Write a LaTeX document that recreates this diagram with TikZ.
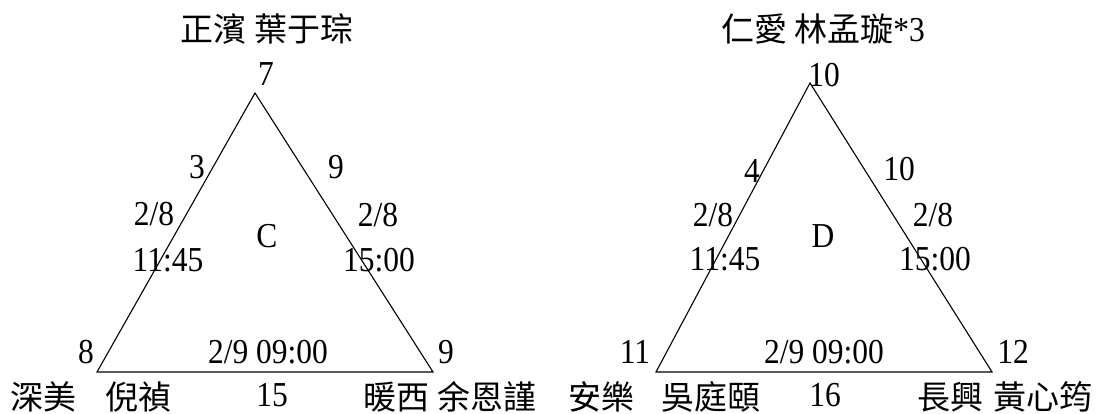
\documentclass[tikz,border=0pt]{standalone}
\usepackage{fontspec}
\setmainfont[FakeStretch=0.9]{Liberation Serif}
\newfontfamily\cjk{Noto Sans CJK TC}
\begin{document}
\begin{tikzpicture}[
x=1pt,y=-1pt,
lbl/.style={inner sep=0pt,font=\fontsize{35}{40}\selectfont},
person/.style={inner sep=0pt,font=\cjk\fontsize{33}{38}\selectfont},
side/.style={line width=1.1pt,black}
]
\useasboundingbox (0,0) rectangle (1101,414);
\coordinate (cT) at (255,93);
\coordinate (cL) at (97,372);
\coordinate (cR) at (433,372);
\draw[side] (cT) -- (cL) -- (cR) -- cycle;
\node[person] (ctitle) at (267,29) {正濱 葉于琮};
\node[lbl] (ctop) at (266,74) {7};
\node[lbl] (cleftn) at (197,167) {3};
\node[lbl] (crightn) at (336,167) {9};
\node[lbl] (cleftd) at (154,214) {2/8};
\node[lbl] (clefth) at (168,260) {11:45};
\node[lbl] (crightd) at (378,215) {2/8};
\node[lbl] (crighth) at (379,260) {15:00};
\node[lbl] (cletter) at (267,236) {C};
\node[lbl] (cln) at (86,352) {8};
\node[lbl] (crn) at (446,352) {9};
\node[lbl] (cbase) at (268,352) {2/9 09:00};
\node[person] (cls) at (43,397) {深美};
\node[person] (clp) at (138,397) {倪禎};
\node[lbl] (cbn) at (272,395) {15};
\node[person] (crs) at (396,397) {暖西};
\node[person] (crp) at (487,397) {余恩謹};
\coordinate (dT) at (810,83);
\coordinate (dL) at (656,372);
\coordinate (dR) at (992,372);
\draw[side] (dT) -- (dL) -- (dR) -- cycle;
\node[lbl] (dtitle) at (823,29) {{\cjk\fontsize{33}{38}\selectfont 仁愛 林孟璇}*3};
\node[lbl] (dtop) at (824,75) {10};
\node[lbl] (dleftn) at (752,171) {4};
\node[lbl] (drightn) at (899,169) {10};
\node[lbl] (dleftd) at (713,215) {2/8};
\node[lbl] (dlefth) at (725,259) {11:45};
\node[lbl] (drightd) at (933,215) {2/8};
\node[lbl] (drighth) at (935,259) {15:00};
\node[lbl] (dletter) at (823,236) {D};
\node[lbl] (dln) at (635,352) {11};
\node[lbl] (drn) at (1013,352) {12};
\node[lbl] (dbase) at (824,352) {2/9 09:00};
\node[person] (dls) at (601,397) {安樂};
\node[person] (dlp) at (711,397) {吳庭頤};
\node[lbl] (dbn) at (825,395) {16};
\node[person] (drs) at (950,397) {長興};
\node[person] (drp) at (1043,397) {黃心筠};
\end{tikzpicture}
\end{document}
